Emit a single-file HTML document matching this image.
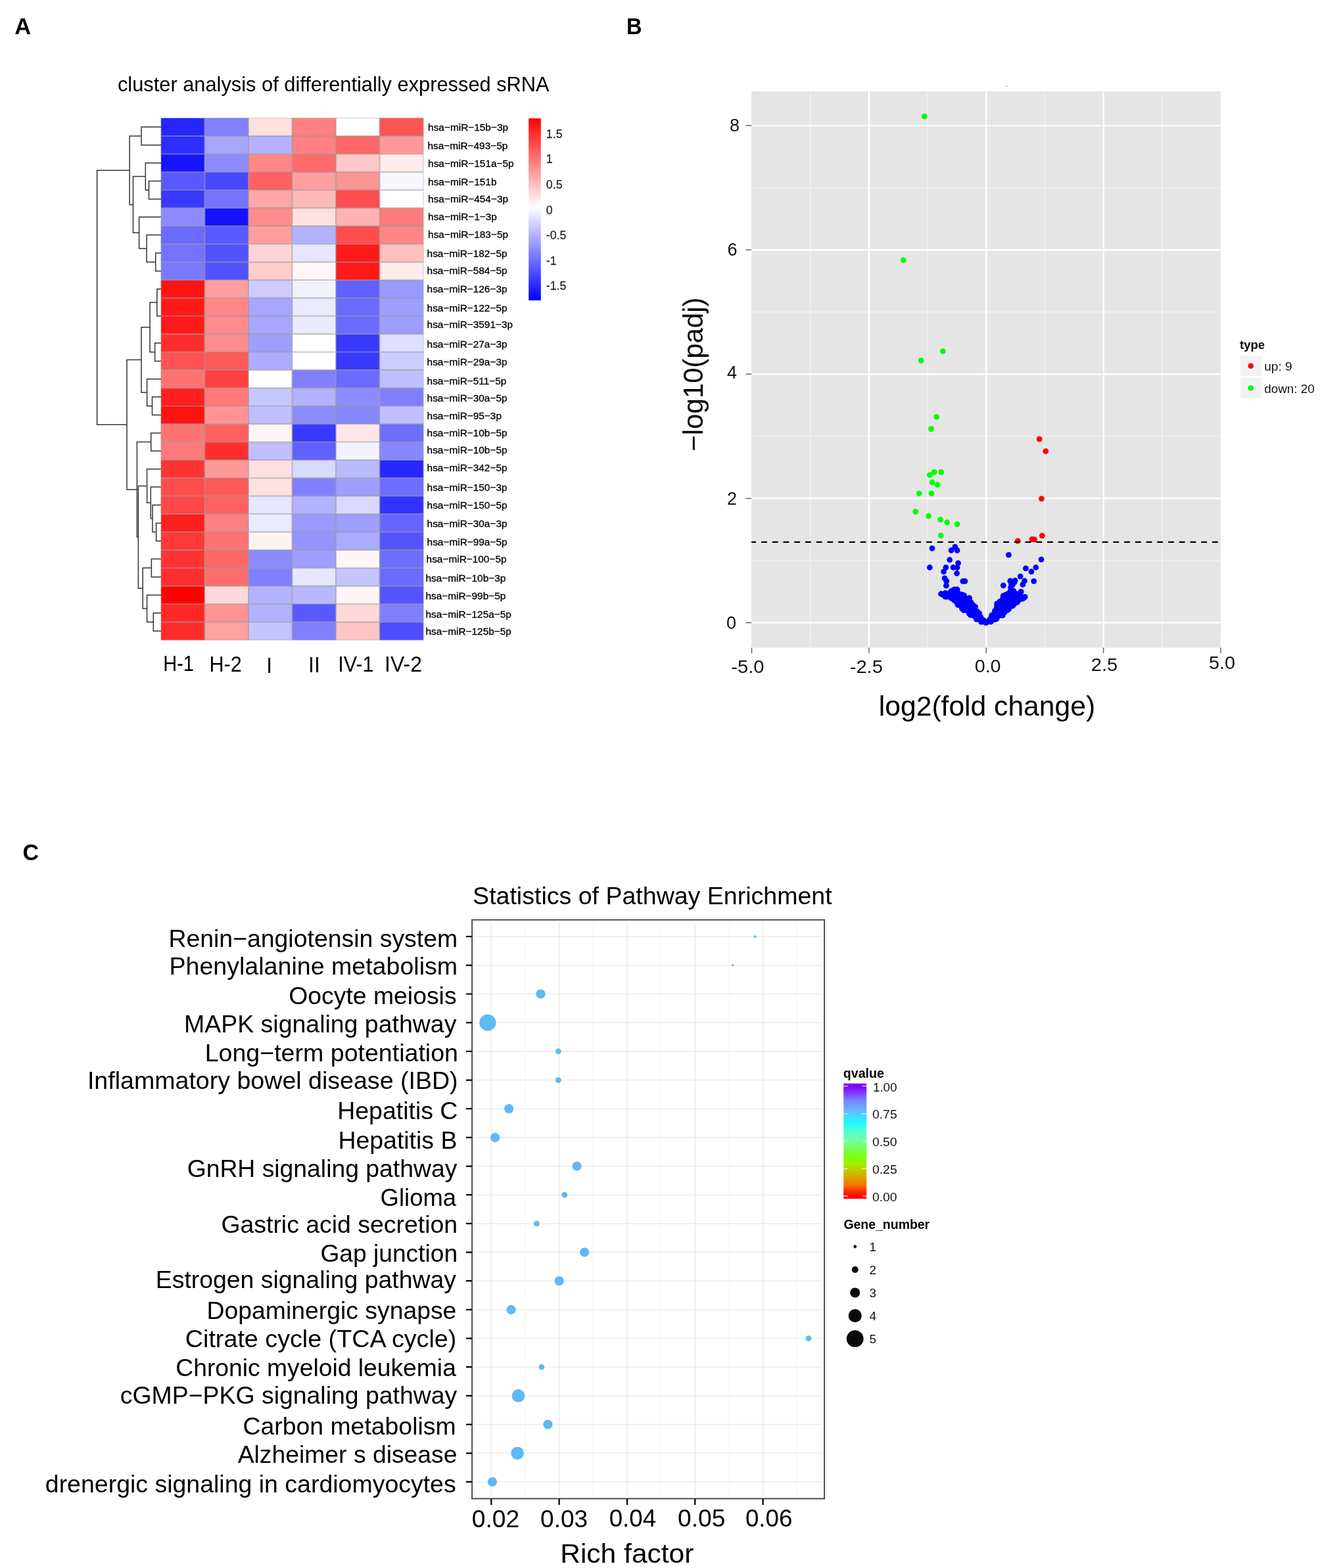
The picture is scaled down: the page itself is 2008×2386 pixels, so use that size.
<!DOCTYPE html>
<html lang="en"><head><meta charset="utf-8"><title>Figure</title>
<style>html,body{margin:0;padding:0;background:#fff}body{width:2008px;height:2386px;overflow:hidden}svg{display:block}text{font-family:'Liberation Sans', sans-serif}</style></head><body>
<svg width="2008" height="2386" viewBox="0 0 2008 2386">
<rect width="2008" height="2386" fill="#fff"/>
<g id="panelA">
<text transform="translate(22.14 52.00) scale(0.9851 1)" font-size="35" font-weight="bold">A</text>
<text transform="translate(178.97 139.30) scale(0.9809 1)" font-size="31.4">cluster analysis of differentially expressed sRNA</text>
<g>
<rect x="244.90" y="179.60" width="66.82" height="27.69" fill="#2626ff"/>
<rect x="311.42" y="179.60" width="66.82" height="27.69" fill="#8080ff"/>
<rect x="377.93" y="179.60" width="66.82" height="27.69" fill="#ffe0e0"/>
<rect x="444.45" y="179.60" width="66.82" height="27.69" fill="#ff8080"/>
<rect x="510.97" y="179.60" width="66.82" height="27.69" fill="#ffffff"/>
<rect x="577.48" y="179.60" width="66.82" height="27.69" fill="#ff5454"/>
<rect x="244.90" y="206.99" width="66.82" height="27.69" fill="#2e2eff"/>
<rect x="311.42" y="206.99" width="66.82" height="27.69" fill="#a6a6ff"/>
<rect x="377.93" y="206.99" width="66.82" height="27.69" fill="#b2b2ff"/>
<rect x="444.45" y="206.99" width="66.82" height="27.69" fill="#ff8080"/>
<rect x="510.97" y="206.99" width="66.82" height="27.69" fill="#ff6666"/>
<rect x="577.48" y="206.99" width="66.82" height="27.69" fill="#ff9999"/>
<rect x="244.90" y="234.38" width="66.82" height="27.69" fill="#1414ff"/>
<rect x="311.42" y="234.38" width="66.82" height="27.69" fill="#8c8cff"/>
<rect x="377.93" y="234.38" width="66.82" height="27.69" fill="#ff8787"/>
<rect x="444.45" y="234.38" width="66.82" height="27.69" fill="#ff6b6b"/>
<rect x="510.97" y="234.38" width="66.82" height="27.69" fill="#ffc7c7"/>
<rect x="577.48" y="234.38" width="66.82" height="27.69" fill="#ffebeb"/>
<rect x="244.90" y="261.77" width="66.82" height="27.69" fill="#5959ff"/>
<rect x="311.42" y="261.77" width="66.82" height="27.69" fill="#4747ff"/>
<rect x="377.93" y="261.77" width="66.82" height="27.69" fill="#ff6161"/>
<rect x="444.45" y="261.77" width="66.82" height="27.69" fill="#ff9e9e"/>
<rect x="510.97" y="261.77" width="66.82" height="27.69" fill="#ff9494"/>
<rect x="577.48" y="261.77" width="66.82" height="27.69" fill="#f7f7ff"/>
<rect x="244.90" y="289.16" width="66.82" height="27.69" fill="#3838ff"/>
<rect x="311.42" y="289.16" width="66.82" height="27.69" fill="#7373ff"/>
<rect x="377.93" y="289.16" width="66.82" height="27.69" fill="#ffa6a6"/>
<rect x="444.45" y="289.16" width="66.82" height="27.69" fill="#ffb8b8"/>
<rect x="510.97" y="289.16" width="66.82" height="27.69" fill="#ff4d4d"/>
<rect x="577.48" y="289.16" width="66.82" height="27.69" fill="#ffffff"/>
<rect x="244.90" y="316.55" width="66.82" height="27.69" fill="#8c8cff"/>
<rect x="311.42" y="316.55" width="66.82" height="27.69" fill="#1212ff"/>
<rect x="377.93" y="316.55" width="66.82" height="27.69" fill="#ff8c8c"/>
<rect x="444.45" y="316.55" width="66.82" height="27.69" fill="#ffe0e0"/>
<rect x="510.97" y="316.55" width="66.82" height="27.69" fill="#ffb2b2"/>
<rect x="577.48" y="316.55" width="66.82" height="27.69" fill="#ff7a7a"/>
<rect x="244.90" y="343.94" width="66.82" height="27.69" fill="#6b6bff"/>
<rect x="311.42" y="343.94" width="66.82" height="27.69" fill="#5959ff"/>
<rect x="377.93" y="343.94" width="66.82" height="27.69" fill="#ff9e9e"/>
<rect x="444.45" y="343.94" width="66.82" height="27.69" fill="#b2b2ff"/>
<rect x="510.97" y="343.94" width="66.82" height="27.69" fill="#ff4d4d"/>
<rect x="577.48" y="343.94" width="66.82" height="27.69" fill="#ff8585"/>
<rect x="244.90" y="371.33" width="66.82" height="27.69" fill="#7373ff"/>
<rect x="311.42" y="371.33" width="66.82" height="27.69" fill="#5252ff"/>
<rect x="377.93" y="371.33" width="66.82" height="27.69" fill="#ffd4d4"/>
<rect x="444.45" y="371.33" width="66.82" height="27.69" fill="#e6e6ff"/>
<rect x="510.97" y="371.33" width="66.82" height="27.69" fill="#ff1919"/>
<rect x="577.48" y="371.33" width="66.82" height="27.69" fill="#ffbfbf"/>
<rect x="244.90" y="398.72" width="66.82" height="27.69" fill="#7a7aff"/>
<rect x="311.42" y="398.72" width="66.82" height="27.69" fill="#5252ff"/>
<rect x="377.93" y="398.72" width="66.82" height="27.69" fill="#ffcccc"/>
<rect x="444.45" y="398.72" width="66.82" height="27.69" fill="#fff7f7"/>
<rect x="510.97" y="398.72" width="66.82" height="27.69" fill="#ff1919"/>
<rect x="577.48" y="398.72" width="66.82" height="27.69" fill="#ffebeb"/>
<rect x="244.90" y="426.11" width="66.82" height="27.69" fill="#ff1414"/>
<rect x="311.42" y="426.11" width="66.82" height="27.69" fill="#ff9e9e"/>
<rect x="377.93" y="426.11" width="66.82" height="27.69" fill="#ccccff"/>
<rect x="444.45" y="426.11" width="66.82" height="27.69" fill="#f2f2ff"/>
<rect x="510.97" y="426.11" width="66.82" height="27.69" fill="#6161ff"/>
<rect x="577.48" y="426.11" width="66.82" height="27.69" fill="#9999ff"/>
<rect x="244.90" y="453.50" width="66.82" height="27.69" fill="#ff1919"/>
<rect x="311.42" y="453.50" width="66.82" height="27.69" fill="#ff8787"/>
<rect x="377.93" y="453.50" width="66.82" height="27.69" fill="#a6a6ff"/>
<rect x="444.45" y="453.50" width="66.82" height="27.69" fill="#ebebff"/>
<rect x="510.97" y="453.50" width="66.82" height="27.69" fill="#6b6bff"/>
<rect x="577.48" y="453.50" width="66.82" height="27.69" fill="#9e9eff"/>
<rect x="244.90" y="480.89" width="66.82" height="27.69" fill="#ff1919"/>
<rect x="311.42" y="480.89" width="66.82" height="27.69" fill="#ff8c8c"/>
<rect x="377.93" y="480.89" width="66.82" height="27.69" fill="#a6a6ff"/>
<rect x="444.45" y="480.89" width="66.82" height="27.69" fill="#ebebff"/>
<rect x="510.97" y="480.89" width="66.82" height="27.69" fill="#6b6bff"/>
<rect x="577.48" y="480.89" width="66.82" height="27.69" fill="#9e9eff"/>
<rect x="244.90" y="508.28" width="66.82" height="27.69" fill="#ff2e2e"/>
<rect x="311.42" y="508.28" width="66.82" height="27.69" fill="#ff8c8c"/>
<rect x="377.93" y="508.28" width="66.82" height="27.69" fill="#9e9eff"/>
<rect x="444.45" y="508.28" width="66.82" height="27.69" fill="#ffffff"/>
<rect x="510.97" y="508.28" width="66.82" height="27.69" fill="#3838ff"/>
<rect x="577.48" y="508.28" width="66.82" height="27.69" fill="#dedeff"/>
<rect x="244.90" y="535.67" width="66.82" height="27.69" fill="#ff5252"/>
<rect x="311.42" y="535.67" width="66.82" height="27.69" fill="#ff5959"/>
<rect x="377.93" y="535.67" width="66.82" height="27.69" fill="#adadff"/>
<rect x="444.45" y="535.67" width="66.82" height="27.69" fill="#ffffff"/>
<rect x="510.97" y="535.67" width="66.82" height="27.69" fill="#3838ff"/>
<rect x="577.48" y="535.67" width="66.82" height="27.69" fill="#ccccff"/>
<rect x="244.90" y="563.06" width="66.82" height="27.69" fill="#ff7373"/>
<rect x="311.42" y="563.06" width="66.82" height="27.69" fill="#ff4040"/>
<rect x="377.93" y="563.06" width="66.82" height="27.69" fill="#ffffff"/>
<rect x="444.45" y="563.06" width="66.82" height="27.69" fill="#8080ff"/>
<rect x="510.97" y="563.06" width="66.82" height="27.69" fill="#6b6bff"/>
<rect x="577.48" y="563.06" width="66.82" height="27.69" fill="#bfbfff"/>
<rect x="244.90" y="590.44" width="66.82" height="27.69" fill="#ff1f1f"/>
<rect x="311.42" y="590.44" width="66.82" height="27.69" fill="#ff7a7a"/>
<rect x="377.93" y="590.44" width="66.82" height="27.69" fill="#c7c7ff"/>
<rect x="444.45" y="590.44" width="66.82" height="27.69" fill="#b2b2ff"/>
<rect x="510.97" y="590.44" width="66.82" height="27.69" fill="#8c8cff"/>
<rect x="577.48" y="590.44" width="66.82" height="27.69" fill="#8080ff"/>
<rect x="244.90" y="617.83" width="66.82" height="27.69" fill="#ff1212"/>
<rect x="311.42" y="617.83" width="66.82" height="27.69" fill="#ff9494"/>
<rect x="377.93" y="617.83" width="66.82" height="27.69" fill="#bfbfff"/>
<rect x="444.45" y="617.83" width="66.82" height="27.69" fill="#8c8cff"/>
<rect x="510.97" y="617.83" width="66.82" height="27.69" fill="#8787ff"/>
<rect x="577.48" y="617.83" width="66.82" height="27.69" fill="#bfbfff"/>
<rect x="244.90" y="645.22" width="66.82" height="27.69" fill="#ff7373"/>
<rect x="311.42" y="645.22" width="66.82" height="27.69" fill="#ff6161"/>
<rect x="377.93" y="645.22" width="66.82" height="27.69" fill="#fff5f5"/>
<rect x="444.45" y="645.22" width="66.82" height="27.69" fill="#3838ff"/>
<rect x="510.97" y="645.22" width="66.82" height="27.69" fill="#ffe6e6"/>
<rect x="577.48" y="645.22" width="66.82" height="27.69" fill="#6e6eff"/>
<rect x="244.90" y="672.61" width="66.82" height="27.69" fill="#ff7a7a"/>
<rect x="311.42" y="672.61" width="66.82" height="27.69" fill="#ff2e2e"/>
<rect x="377.93" y="672.61" width="66.82" height="27.69" fill="#bfbfff"/>
<rect x="444.45" y="672.61" width="66.82" height="27.69" fill="#6161ff"/>
<rect x="510.97" y="672.61" width="66.82" height="27.69" fill="#f2f2ff"/>
<rect x="577.48" y="672.61" width="66.82" height="27.69" fill="#8787ff"/>
<rect x="244.90" y="700.00" width="66.82" height="27.69" fill="#ff3333"/>
<rect x="311.42" y="700.00" width="66.82" height="27.69" fill="#ff9999"/>
<rect x="377.93" y="700.00" width="66.82" height="27.69" fill="#ffe0e0"/>
<rect x="444.45" y="700.00" width="66.82" height="27.69" fill="#d9d9ff"/>
<rect x="510.97" y="700.00" width="66.82" height="27.69" fill="#babaff"/>
<rect x="577.48" y="700.00" width="66.82" height="27.69" fill="#2626ff"/>
<rect x="244.90" y="727.39" width="66.82" height="27.69" fill="#ff4d4d"/>
<rect x="311.42" y="727.39" width="66.82" height="27.69" fill="#ff5959"/>
<rect x="377.93" y="727.39" width="66.82" height="27.69" fill="#ffe0e0"/>
<rect x="444.45" y="727.39" width="66.82" height="27.69" fill="#8080ff"/>
<rect x="510.97" y="727.39" width="66.82" height="27.69" fill="#9e9eff"/>
<rect x="577.48" y="727.39" width="66.82" height="27.69" fill="#6e6eff"/>
<rect x="244.90" y="754.78" width="66.82" height="27.69" fill="#ff4747"/>
<rect x="311.42" y="754.78" width="66.82" height="27.69" fill="#ff6161"/>
<rect x="377.93" y="754.78" width="66.82" height="27.69" fill="#e6e6ff"/>
<rect x="444.45" y="754.78" width="66.82" height="27.69" fill="#b2b2ff"/>
<rect x="510.97" y="754.78" width="66.82" height="27.69" fill="#d9d9ff"/>
<rect x="577.48" y="754.78" width="66.82" height="27.69" fill="#3333ff"/>
<rect x="244.90" y="782.17" width="66.82" height="27.69" fill="#ff1f1f"/>
<rect x="311.42" y="782.17" width="66.82" height="27.69" fill="#ff8080"/>
<rect x="377.93" y="782.17" width="66.82" height="27.69" fill="#ebebff"/>
<rect x="444.45" y="782.17" width="66.82" height="27.69" fill="#9999ff"/>
<rect x="510.97" y="782.17" width="66.82" height="27.69" fill="#9e9eff"/>
<rect x="577.48" y="782.17" width="66.82" height="27.69" fill="#6666ff"/>
<rect x="244.90" y="809.56" width="66.82" height="27.69" fill="#ff3838"/>
<rect x="311.42" y="809.56" width="66.82" height="27.69" fill="#ff7373"/>
<rect x="377.93" y="809.56" width="66.82" height="27.69" fill="#fff2f2"/>
<rect x="444.45" y="809.56" width="66.82" height="27.69" fill="#9494ff"/>
<rect x="510.97" y="809.56" width="66.82" height="27.69" fill="#ababff"/>
<rect x="577.48" y="809.56" width="66.82" height="27.69" fill="#5454ff"/>
<rect x="244.90" y="836.95" width="66.82" height="27.69" fill="#ff3333"/>
<rect x="311.42" y="836.95" width="66.82" height="27.69" fill="#ff6666"/>
<rect x="377.93" y="836.95" width="66.82" height="27.69" fill="#8c8cff"/>
<rect x="444.45" y="836.95" width="66.82" height="27.69" fill="#9e9eff"/>
<rect x="510.97" y="836.95" width="66.82" height="27.69" fill="#fff7f7"/>
<rect x="577.48" y="836.95" width="66.82" height="27.69" fill="#6e6eff"/>
<rect x="244.90" y="864.34" width="66.82" height="27.69" fill="#ff2e2e"/>
<rect x="311.42" y="864.34" width="66.82" height="27.69" fill="#ff6e6e"/>
<rect x="377.93" y="864.34" width="66.82" height="27.69" fill="#8080ff"/>
<rect x="444.45" y="864.34" width="66.82" height="27.69" fill="#e6e6ff"/>
<rect x="510.97" y="864.34" width="66.82" height="27.69" fill="#c4c4ff"/>
<rect x="577.48" y="864.34" width="66.82" height="27.69" fill="#6b6bff"/>
<rect x="244.90" y="891.73" width="66.82" height="27.69" fill="#ff0000"/>
<rect x="311.42" y="891.73" width="66.82" height="27.69" fill="#ffd9d9"/>
<rect x="377.93" y="891.73" width="66.82" height="27.69" fill="#b2b2ff"/>
<rect x="444.45" y="891.73" width="66.82" height="27.69" fill="#b8b8ff"/>
<rect x="510.97" y="891.73" width="66.82" height="27.69" fill="#fff5f5"/>
<rect x="577.48" y="891.73" width="66.82" height="27.69" fill="#5454ff"/>
<rect x="244.90" y="919.12" width="66.82" height="27.69" fill="#ff2626"/>
<rect x="311.42" y="919.12" width="66.82" height="27.69" fill="#ff9494"/>
<rect x="377.93" y="919.12" width="66.82" height="27.69" fill="#b2b2ff"/>
<rect x="444.45" y="919.12" width="66.82" height="27.69" fill="#5959ff"/>
<rect x="510.97" y="919.12" width="66.82" height="27.69" fill="#ffd9d9"/>
<rect x="577.48" y="919.12" width="66.82" height="27.69" fill="#8080ff"/>
<rect x="244.90" y="946.51" width="66.82" height="27.69" fill="#ff2b2b"/>
<rect x="311.42" y="946.51" width="66.82" height="27.69" fill="#ffa1a1"/>
<rect x="377.93" y="946.51" width="66.82" height="27.69" fill="#c4c4ff"/>
<rect x="444.45" y="946.51" width="66.82" height="27.69" fill="#8080ff"/>
<rect x="510.97" y="946.51" width="66.82" height="27.69" fill="#ffc4c4"/>
<rect x="577.48" y="946.51" width="66.82" height="27.69" fill="#4d4dff"/>
</g>
<path d="M311.42 179.6V973.9M377.93 179.6V973.9M444.45 179.6V973.9M510.97 179.6V973.9M577.48 179.6V973.9M244.9 206.99H644.0M244.9 234.38H644.0M244.9 261.77H644.0M244.9 289.16H644.0M244.9 316.55H644.0M244.9 343.94H644.0M244.9 371.33H644.0M244.9 398.72H644.0M244.9 426.11H644.0M244.9 453.50H644.0M244.9 480.89H644.0M244.9 508.28H644.0M244.9 535.67H644.0M244.9 563.06H644.0M244.9 590.44H644.0M244.9 617.83H644.0M244.9 645.22H644.0M244.9 672.61H644.0M244.9 700.00H644.0M244.9 727.39H644.0M244.9 754.78H644.0M244.9 782.17H644.0M244.9 809.56H644.0M244.9 836.95H644.0M244.9 864.34H644.0M244.9 891.73H644.0M244.9 919.12H644.0M244.9 946.51H644.0" stroke="#999" stroke-width="1.9" stroke-opacity="0.62" fill="none"/>
<rect x="244.9" y="179.6" width="399.10" height="794.30" fill="none" stroke="#aaa" stroke-width="1" stroke-opacity="0.55"/>
<path d="M244.9 193.3H215.0V220.7H244.9M244.9 275.5H226.5V302.9H244.9M244.9 248.1H221.3V289.2H226.5M244.9 385.0H236.7V412.4H244.9M244.9 357.6H223.1V398.7H236.7M244.9 330.2H211.6V378.2H223.1M221.3 268.6H202.5V354.2H211.6M215.0 207.0H197.1V311.4H202.5M244.9 439.8H238.8V480.9H244.9M244.9 522.0H235.6V549.4H244.9M238.8 460.3H228.1V535.7H235.6M244.9 604.1H231.5V631.5H244.9M244.9 576.8H223.6V617.8H231.5M228.1 498.0H215.0V597.3H223.6M244.9 658.9H229.7V686.3H244.9M244.9 795.9H237.6V823.3H244.9M244.9 768.5H232.0V809.6H237.6M244.9 741.1H229.3V789.0H232.0M244.9 713.7H223.6V765.1H229.3M244.9 850.6H230.4V878.0H244.9M244.9 932.8H233.3V960.2H244.9M244.9 905.4H223.6V946.5H233.3M230.4 864.3H217.2V926.0H223.6M223.6 739.4H210.4V895.2H217.2M229.7 672.6H208.4V817.3H210.4M215.0 547.6H193.0V744.9H208.4M197.1 259.2H147.6V646.3H193.0" fill="none" stroke="#333" stroke-width="1.5"/>
<g font-size="15.4" fill="#000" stroke="#000" stroke-width="0.3">
<text x="651.1" y="198.8">hsa−miR−15b−3p</text>
<text x="650.4" y="227.0">hsa−miR−493−5p</text>
<text x="651.1" y="254.0">hsa−miR−151a−5p</text>
<text x="651.1" y="282.4">hsa−miR−151b</text>
<text x="651.1" y="308.3">hsa−miR−454−3p</text>
<text x="651.1" y="334.9">hsa−miR−1−3p</text>
<text x="651.1" y="362.0">hsa−miR−183−5p</text>
<text x="649.6" y="391.2">hsa−miR−182−5p</text>
<text x="649.6" y="417.0">hsa−miR−584−5p</text>
<text x="649.6" y="445.3">hsa−miR−126−3p</text>
<text x="649.6" y="474.0">hsa−miR−122−5p</text>
<text x="649.6" y="499.4">hsa−miR−3591−3p</text>
<text x="649.6" y="528.7">hsa−miR−27a−3p</text>
<text x="649.6" y="555.8">hsa−miR−29a−3p</text>
<text x="649.6" y="584.6">hsa−miR−511−5p</text>
<text x="649.6" y="610.8">hsa−miR−30a−5p</text>
<text x="649.6" y="637.7">hsa−miR−95−3p</text>
<text x="649.6" y="663.6">hsa−miR−10b−5p</text>
<text x="649.6" y="689.5">hsa−miR−10b−5p</text>
<text x="649.6" y="717.4">hsa−miR−342−5p</text>
<text x="649.6" y="747.0">hsa−miR−150−3p</text>
<text x="649.6" y="774.0">hsa−miR−150−5p</text>
<text x="649.6" y="802.1">hsa−miR−30a−3p</text>
<text x="649.6" y="830.2">hsa−miR−99a−5p</text>
<text x="648.6" y="856.1">hsa−miR−100−5p</text>
<text x="647.4" y="884.9">hsa−miR−10b−3p</text>
<text x="647.4" y="912.3">hsa−miR−99b−5p</text>
<text x="647.4" y="939.9">hsa−miR−125a−5p</text>
<text x="647.4" y="965.8">hsa−miR−125b−5p</text>
</g>
<text transform="translate(248.18 1020.70) scale(0.8849 1)" font-size="32.8">H-1</text>
<text transform="translate(318.45 1021.60) scale(0.9332 1)" font-size="32.8">H-2</text>
<text transform="translate(405.36 1023.60) scale(0.9628 1)" font-size="32.8">I</text>
<text transform="translate(469.10 1022.90) scale(0.9837 1)" font-size="32.8">II</text>
<text transform="translate(514.15 1021.70) scale(0.9322 1)" font-size="32.8">IV-1</text>
<text transform="translate(585.12 1021.80) scale(0.9741 1)" font-size="32.8">IV-2</text>
<defs><linearGradient id="hm" x1="0" y1="0" x2="0" y2="1"><stop offset="0" stop-color="#ff0000"/><stop offset="0.488" stop-color="#ffffff"/><stop offset="1" stop-color="#0000ff"/></linearGradient></defs>
<rect x="804.2" y="180.1" width="18.6" height="277" fill="url(#hm)"/>
<g font-size="17.8" fill="#222" stroke="#222" stroke-width="0.25">
<text x="830.8" y="209.7">1.5</text>
<text x="830.8" y="248.4">1</text>
<text x="830.8" y="287.1">0.5</text>
<text x="830.8" y="325.8">0</text>
<text x="830.8" y="364.0">-0.5</text>
<text x="830.8" y="402.7">-1</text>
<text x="830.8" y="441.2">-1.5</text>
</g>
</g>
<g id="panelB">
<text transform="translate(953.08 52.00) scale(0.9321 1)" font-size="35" font-weight="bold">B</text>
<rect x="1143.2" y="139.0" width="713.7" height="846.6" fill="#e5e5e5"/>
<path d="M1232.7 139.0V985.6M1411.1 139.0V985.6M1589.4 139.0V985.6M1767.8 139.0V985.6M1143.2 853.0H1856.9M1143.2 663.9H1856.9M1143.2 474.8H1856.9M1143.2 285.6H1856.9" stroke="#f1f1f1" stroke-width="1.4" fill="none"/>
<path d="M1321.9 139.0V985.6M1500.2 139.0V985.6M1678.6 139.0V985.6M1143.2 947.5H1856.9M1143.2 758.4H1856.9M1143.2 569.3H1856.9M1143.2 380.2H1856.9M1143.2 191.1H1856.9" stroke="#ffffff" stroke-width="2.35" fill="none"/>
<path d="M1143.5 985.6v8.5M1321.9 985.6v8.5M1500.2 985.6v8.5M1678.6 985.6v8.5M1857.0 985.6v8.5M1143.2 947.5h-8.8M1143.2 758.4h-8.8M1143.2 569.3h-8.8M1143.2 380.2h-8.8M1143.2 191.1h-8.8" stroke="#666" stroke-width="1.5" fill="none"/>
<g fill="#0000ff">
<circle cx="1418.0" cy="834.4" r="4.4"/>
<circle cx="1452.8" cy="832.1" r="4.4"/>
<circle cx="1447.0" cy="837.5" r="4.4"/>
<circle cx="1456.1" cy="837.5" r="4.4"/>
<circle cx="1444.7" cy="852.0" r="4.4"/>
<circle cx="1457.6" cy="856.8" r="4.4"/>
<circle cx="1414.4" cy="863.5" r="4.4"/>
<circle cx="1438.9" cy="863.5" r="4.4"/>
<circle cx="1450.1" cy="863.5" r="4.4"/>
<circle cx="1456.1" cy="863.5" r="4.4"/>
<circle cx="1435.6" cy="869.8" r="4.4"/>
<circle cx="1455.6" cy="872.5" r="4.4"/>
<circle cx="1437.1" cy="879.8" r="4.4"/>
<circle cx="1439.8" cy="884.3" r="4.4"/>
<circle cx="1439.4" cy="891.2" r="4.4"/>
<circle cx="1464.8" cy="884.3" r="4.4"/>
<circle cx="1467.9" cy="884.3" r="4.4"/>
<circle cx="1534.5" cy="844.4" r="4.4"/>
<circle cx="1584.0" cy="851.3" r="4.4"/>
<circle cx="1575.8" cy="863.5" r="4.4"/>
<circle cx="1560.4" cy="864.9" r="4.4"/>
<circle cx="1568.9" cy="869.8" r="4.4"/>
<circle cx="1552.2" cy="877.1" r="4.4"/>
<circle cx="1572.7" cy="884.3" r="4.4"/>
<circle cx="1558.6" cy="884.0" r="4.4"/>
<circle cx="1555.9" cy="889.4" r="4.4"/>
<circle cx="1536.8" cy="884.0" r="4.4"/>
<circle cx="1544.1" cy="883.4" r="4.4"/>
<circle cx="1538.6" cy="888.9" r="4.4"/>
<circle cx="1526.3" cy="891.0" r="4.4"/>
<circle cx="1553.2" cy="900.3" r="4.4"/>
<circle cx="1559.0" cy="908.3" r="4.4"/>
<circle cx="1555.0" cy="911.2" r="4.4"/>
<circle cx="1431.6" cy="903.9" r="4.4"/>
<circle cx="1438.0" cy="902.5" r="4.4"/>
<circle cx="1438.9" cy="907.0" r="4.4"/>
<circle cx="1443.4" cy="904.6" r="4.4"/>
<circle cx="1451.6" cy="897.0" r="4.4"/>
<circle cx="1456.1" cy="897.0" r="4.4"/>
<circle cx="1549.4" cy="913.5" r="4.4"/>
<circle cx="1455.4" cy="916.4" r="4.4"/>
<circle cx="1512.0" cy="934.3" r="4.4"/>
<circle cx="1443.9" cy="903.1" r="4.4"/>
<circle cx="1456.1" cy="899.2" r="4.4"/>
<circle cx="1487.9" cy="937.5" r="4.4"/>
<circle cx="1529.3" cy="909.3" r="4.4"/>
<circle cx="1539.5" cy="908.4" r="4.4"/>
<circle cx="1556.5" cy="909.1" r="4.4"/>
<circle cx="1446.9" cy="899.5" r="4.4"/>
<circle cx="1458.7" cy="908.9" r="4.4"/>
<circle cx="1530.1" cy="904.8" r="4.4"/>
<circle cx="1462.8" cy="922.1" r="4.4"/>
<circle cx="1454.3" cy="907.3" r="4.4"/>
<circle cx="1519.8" cy="921.0" r="4.4"/>
<circle cx="1525.6" cy="928.7" r="4.4"/>
<circle cx="1476.6" cy="927.5" r="4.4"/>
<circle cx="1484.9" cy="934.2" r="4.4"/>
<circle cx="1541.6" cy="920.3" r="4.4"/>
<circle cx="1525.3" cy="920.8" r="4.4"/>
<circle cx="1520.7" cy="915.5" r="4.4"/>
<circle cx="1510.0" cy="942.5" r="4.4"/>
<circle cx="1470.2" cy="927.0" r="4.4"/>
<circle cx="1543.8" cy="908.3" r="4.4"/>
<circle cx="1542.8" cy="886.4" r="4.4"/>
<circle cx="1537.3" cy="898.9" r="4.4"/>
<circle cx="1466.5" cy="905.8" r="4.4"/>
<circle cx="1479.8" cy="920.1" r="4.4"/>
<circle cx="1523.7" cy="936.0" r="4.4"/>
<circle cx="1513.5" cy="929.5" r="4.4"/>
<circle cx="1474.5" cy="934.0" r="4.4"/>
<circle cx="1460.1" cy="917.4" r="4.4"/>
<circle cx="1466.1" cy="914.0" r="4.4"/>
<circle cx="1477.1" cy="923.3" r="4.4"/>
<circle cx="1546.6" cy="903.9" r="4.4"/>
<circle cx="1483.1" cy="927.5" r="4.4"/>
<circle cx="1473.5" cy="913.6" r="4.4"/>
<circle cx="1535.4" cy="909.6" r="4.4"/>
<circle cx="1520.2" cy="932.7" r="4.4"/>
<circle cx="1464.5" cy="909.4" r="4.4"/>
<circle cx="1452.3" cy="913.9" r="4.4"/>
<circle cx="1552.0" cy="910.6" r="4.4"/>
<circle cx="1530.8" cy="917.6" r="4.4"/>
<circle cx="1531.6" cy="923.6" r="4.4"/>
<circle cx="1473.3" cy="918.8" r="4.4"/>
<circle cx="1534.0" cy="903.2" r="4.4"/>
<circle cx="1439.5" cy="903.4" r="4.4"/>
<circle cx="1506.1" cy="941.8" r="4.4"/>
<circle cx="1535.7" cy="914.4" r="4.4"/>
<circle cx="1479.1" cy="934.6" r="4.4"/>
<circle cx="1540.9" cy="903.1" r="4.4"/>
<circle cx="1445.4" cy="908.9" r="4.4"/>
<circle cx="1518.0" cy="928.9" r="4.4"/>
<circle cx="1434.3" cy="904.9" r="4.4"/>
<circle cx="1536.8" cy="922.8" r="4.4"/>
<circle cx="1450.1" cy="908.4" r="4.4"/>
<circle cx="1528.2" cy="931.7" r="4.4"/>
<circle cx="1486.8" cy="941.4" r="4.4"/>
<circle cx="1516.5" cy="939.0" r="4.4"/>
<circle cx="1516.4" cy="934.2" r="4.4"/>
<circle cx="1467.1" cy="924.6" r="4.4"/>
<circle cx="1467.4" cy="918.7" r="4.4"/>
<circle cx="1450.5" cy="903.6" r="4.4"/>
<circle cx="1490.6" cy="943.2" r="4.4"/>
<circle cx="1544.5" cy="913.3" r="4.4"/>
<circle cx="1481.9" cy="937.5" r="4.4"/>
<circle cx="1459.2" cy="913.6" r="4.4"/>
<circle cx="1550.9" cy="906.7" r="4.4"/>
<circle cx="1439.6" cy="908.2" r="4.4"/>
<circle cx="1496.3" cy="943.8" r="4.4"/>
<circle cx="1540.0" cy="890.4" r="4.4"/>
<circle cx="1527.2" cy="914.9" r="4.4"/>
<circle cx="1525.6" cy="910.5" r="4.4"/>
<circle cx="1516.6" cy="918.7" r="4.4"/>
<circle cx="1503.0" cy="946.0" r="4.4"/>
<circle cx="1552.3" cy="901.9" r="4.4"/>
<circle cx="1462.6" cy="904.7" r="4.4"/>
<circle cx="1508.6" cy="936.3" r="4.4"/>
<circle cx="1541.9" cy="916.3" r="4.4"/>
<circle cx="1469.1" cy="910.5" r="4.4"/>
<circle cx="1538.8" cy="886.4" r="4.4"/>
<circle cx="1452.2" cy="898.6" r="4.4"/>
<circle cx="1458.7" cy="904.1" r="4.4"/>
<circle cx="1537.6" cy="893.8" r="4.4"/>
<circle cx="1526.2" cy="906.6" r="4.4"/>
<circle cx="1454.5" cy="902.9" r="4.4"/>
<circle cx="1516.4" cy="923.4" r="4.4"/>
<circle cx="1486.7" cy="930.7" r="4.4"/>
<circle cx="1532.1" cy="912.3" r="4.4"/>
<circle cx="1530.4" cy="927.4" r="4.4"/>
<circle cx="1474.6" cy="909.8" r="4.4"/>
<circle cx="1539.4" cy="913.1" r="4.4"/>
<circle cx="1489.6" cy="933.4" r="4.4"/>
<circle cx="1523.3" cy="925.3" r="4.4"/>
<circle cx="1535.4" cy="918.3" r="4.4"/>
<circle cx="1492.0" cy="939.4" r="4.4"/>
<circle cx="1472.9" cy="930.3" r="4.4"/>
<circle cx="1476.9" cy="916.4" r="4.4"/>
<circle cx="1470.4" cy="921.9" r="4.4"/>
<circle cx="1507.3" cy="946.0" r="4.4"/>
<circle cx="1463.5" cy="926.2" r="4.4"/>
<circle cx="1527.4" cy="924.6" r="4.4"/>
<circle cx="1511.9" cy="938.6" r="4.4"/>
<circle cx="1534.7" cy="926.7" r="4.4"/>
<circle cx="1547.7" cy="909.8" r="4.4"/>
<circle cx="1482.1" cy="931.5" r="4.4"/>
<circle cx="1498.8" cy="947.1" r="4.4"/>
<circle cx="1483.5" cy="923.3" r="4.4"/>
<circle cx="1473.4" cy="924.6" r="4.4"/>
<circle cx="1469.8" cy="915.6" r="4.4"/>
<circle cx="1541.7" cy="899.2" r="4.4"/>
<circle cx="1545.7" cy="917.1" r="4.4"/>
<circle cx="1457.7" cy="920.6" r="4.4"/>
<circle cx="1455.3" cy="911.3" r="4.4"/>
<circle cx="1519.7" cy="936.8" r="4.4"/>
<circle cx="1513.9" cy="942.6" r="4.4"/>
<circle cx="1431.9" cy="903.7" r="4.4"/>
<circle cx="1437.6" cy="907.8" r="4.4"/>
<circle cx="1447.8" cy="910.8" r="4.4"/>
<circle cx="1456.9" cy="920.0" r="4.4"/>
<circle cx="1466.1" cy="928.7" r="4.4"/>
<circle cx="1476.3" cy="935.8" r="4.4"/>
<circle cx="1485.5" cy="942.4" r="4.4"/>
<circle cx="1492.7" cy="946.3" r="4.4"/>
<circle cx="1500.1" cy="947.6" r="4.4"/>
<circle cx="1507.4" cy="946.0" r="4.4"/>
<circle cx="1516.1" cy="941.4" r="4.4"/>
<circle cx="1525.3" cy="936.3" r="4.4"/>
<circle cx="1532.4" cy="928.7" r="4.4"/>
<circle cx="1540.6" cy="922.0" r="4.4"/>
<circle cx="1547.8" cy="915.9" r="4.4"/>
<circle cx="1555.9" cy="910.8" r="4.4"/>
<circle cx="1559.0" cy="908.3" r="4.4"/>
</g><g fill="#00ff00">
<circle cx="1406.3" cy="177.1" r="4.4"/>
<circle cx="1374.3" cy="396.0" r="4.4"/>
<circle cx="1434.3" cy="534.3" r="4.4"/>
<circle cx="1401.1" cy="548.6" r="4.4"/>
<circle cx="1424.7" cy="634.3" r="4.4"/>
<circle cx="1416.4" cy="652.6" r="4.4"/>
<circle cx="1421.1" cy="718.3" r="4.4"/>
<circle cx="1431.8" cy="718.5" r="4.4"/>
<circle cx="1414.4" cy="722.8" r="4.4"/>
<circle cx="1418.0" cy="733.9" r="4.4"/>
<circle cx="1426.0" cy="737.7" r="4.4"/>
<circle cx="1398.2" cy="750.9" r="4.4"/>
<circle cx="1416.9" cy="750.9" r="4.4"/>
<circle cx="1392.8" cy="778.5" r="4.4"/>
<circle cx="1412.6" cy="785.4" r="4.4"/>
<circle cx="1430.7" cy="790.7" r="4.4"/>
<circle cx="1440.7" cy="795.0" r="4.4"/>
<circle cx="1456.1" cy="797.6" r="4.4"/>
<circle cx="1431.2" cy="814.8" r="4.4"/>
</g><g fill="#ff0000">
<circle cx="1581.1" cy="668.2" r="4.4"/>
<circle cx="1590.7" cy="686.7" r="4.4"/>
<circle cx="1584.4" cy="758.9" r="4.4"/>
<circle cx="1585.3" cy="815.1" r="4.4"/>
<circle cx="1548.3" cy="823.1" r="4.4"/>
<circle cx="1570.0" cy="820.6" r="4.4"/>
<circle cx="1573.5" cy="821.0" r="4.4"/>
</g>
<path d="M1143.2 824.8H1856.9" stroke="#000" stroke-width="2.2" stroke-dasharray="8.8 7.93" stroke-dashoffset="1.9" fill="none"/>
<circle cx="1531.4" cy="131.4" r="0.8" fill="#777"/>
<g font-size="27" fill="#111">
<text transform="translate(1112.29 1023.80) scale(1.0795 1)" font-size="27" fill="#111">-5.0</text>
<text transform="translate(1292.69 1023.80) scale(1.0805 1)" font-size="27" fill="#111">-2.5</text>
<text transform="translate(1482.65 1022.80) scale(1.0646 1)" font-size="27" fill="#111">0.0</text>
<text transform="translate(1659.75 1020.50) scale(1.0769 1)" font-size="27" fill="#111">2.5</text>
<text transform="translate(1839.05 1018.40) scale(1.0646 1)" font-size="27" fill="#111">5.0</text>
<text x="1117.4" y="200.3" text-anchor="middle">8</text>
<text x="1114.0" y="389.2" text-anchor="middle">6</text>
<text x="1113.4" y="576.0" text-anchor="middle">4</text>
<text x="1113.5" y="768.0" text-anchor="middle">2</text>
<text x="1112.4" y="957.2" text-anchor="middle">0</text>
</g>
<text transform="translate(1336.83 1089.00) scale(1.0196 1)" font-size="41.8">log2(fold change)</text>
<text transform="translate(1068.90 686.69) rotate(-90) scale(1.0024 1)" font-size="41.8">−log10(padj)</text>
<text transform="translate(1886.12 531.00) scale(0.9791 1)" font-size="18.8" font-weight="bold">type</text>
<rect x="1887.1" y="541.0" width="31.5" height="31.3" fill="#f2f2f2"/>
<rect x="1887.1" y="574.8" width="31.5" height="31.4" fill="#f2f2f2"/>
<circle cx="1902.7" cy="556.7" r="4.3" fill="#ff0000"/>
<circle cx="1902.7" cy="590.5" r="4.3" fill="#00ff00"/>
<text transform="translate(1923.16 563.70) scale(1.0270 1)" font-size="18.6" fill="#111">up: 9</text>
<text transform="translate(1923.25 597.90) scale(1.0119 1)" font-size="18.6" fill="#111">down: 20</text>
</g>
<g id="panelC">
<text transform="translate(34.54 1308.60) scale(0.9457 1)" font-size="36" font-weight="bold">C</text>
<text transform="translate(719.11 1375.90) scale(1.0068 1)" font-size="37.3">Statistics of Pathway Enrichment</text>
<rect x="718.1" y="1399.7" width="536.0" height="880.8" fill="#fff"/>
<path d="M799.0 1402.7V2277.5M902.3 1402.7V2277.5M1005.6 1402.7V2277.5M1109.0 1402.7V2277.5M1212.3 1402.7V2277.5" stroke="#f6f6f6" stroke-width="1" fill="none"/>
<path d="M747.3 1402.7V2277.5M850.6 1402.7V2277.5M954.0 1402.7V2277.5M1057.3 1402.7V2277.5M1160.6 1402.7V2277.5M722.1 1425.2H1250.1M722.1 1468.9H1250.1M722.1 1512.5H1250.1M722.1 1556.2H1250.1M722.1 1599.9H1250.1M722.1 1643.6H1250.1M722.1 1687.2H1250.1M722.1 1730.9H1250.1M722.1 1774.6H1250.1M722.1 1818.2H1250.1M722.1 1861.9H1250.1M722.1 1905.6H1250.1M722.1 1949.2H1250.1M722.1 1992.9H1250.1M722.1 2036.6H1250.1M722.1 2080.2H1250.1M722.1 2123.9H1250.1M722.1 2167.6H1250.1M722.1 2211.3H1250.1M722.1 2254.9H1250.1" stroke="#ececec" stroke-width="1.5" fill="none"/>
<g fill="#5fb9f5">
<circle cx="1148.7" cy="1425.2" r="2.0"/>
<circle cx="1114.7" cy="1468.9" r="1.7"/>
<circle cx="822.5" cy="1512.5" r="7.1"/>
<circle cx="741.9" cy="1556.2" r="12.6"/>
<circle cx="849.4" cy="1599.9" r="4.4"/>
<circle cx="849.4" cy="1643.6" r="4.4"/>
<circle cx="774.2" cy="1687.2" r="7.1"/>
<circle cx="753.1" cy="1730.9" r="7.1"/>
<circle cx="877.6" cy="1774.6" r="7.1"/>
<circle cx="858.9" cy="1818.2" r="4.4"/>
<circle cx="816.4" cy="1861.9" r="4.4"/>
<circle cx="889.2" cy="1905.6" r="7.1"/>
<circle cx="850.7" cy="1949.2" r="7.1"/>
<circle cx="777.6" cy="1992.9" r="7.1"/>
<circle cx="1230.0" cy="2036.6" r="4.4"/>
<circle cx="823.9" cy="2080.2" r="4.4"/>
<circle cx="788.5" cy="2123.9" r="9.9"/>
<circle cx="833.4" cy="2167.6" r="7.1"/>
<circle cx="787.1" cy="2211.3" r="9.9"/>
<circle cx="749.0" cy="2254.9" r="7.1"/>
</g>
<rect x="718.1" y="1399.7" width="536.0" height="880.8" fill="none" stroke="#4d4d4d" stroke-width="2"/>
<path d="M747.3 2280.5v9.5M850.6 2280.5v9.5M954.0 2280.5v9.5M1057.3 2280.5v9.5M1160.6 2280.5v9.5M718.1 1425.2h-9.2M718.1 1468.9h-9.2M718.1 1512.5h-9.2M718.1 1556.2h-9.2M718.1 1599.9h-9.2M718.1 1643.6h-9.2M718.1 1687.2h-9.2M718.1 1730.9h-9.2M718.1 1774.6h-9.2M718.1 1818.2h-9.2M718.1 1861.9h-9.2M718.1 1905.6h-9.2M718.1 1949.2h-9.2M718.1 1992.9h-9.2M718.1 2036.6h-9.2M718.1 2080.2h-9.2M718.1 2123.9h-9.2M718.1 2167.6h-9.2M718.1 2211.3h-9.2M718.1 2254.9h-9.2" stroke="#000" stroke-width="2.2" fill="none"/>
<text transform="translate(256.41 1440.90) scale(1.0056 1)" font-size="37.2">Renin−angiotensin system</text>
<text transform="translate(257.49 1483.40) scale(1.0105 1)" font-size="37.2">Phenylalanine metabolism</text>
<text transform="translate(439.22 1528.00) scale(1.0048 1)" font-size="37.2">Oocyte meiosis</text>
<text transform="translate(280.00 1571.30) scale(1.0072 1)" font-size="37.2">MAPK signaling pathway</text>
<text transform="translate(311.69 1615.20) scale(1.0101 1)" font-size="37.2">Long−term potentiation</text>
<text transform="translate(132.92 1656.70) scale(1.0103 1)" font-size="37.2">Inflammatory bowel disease (IBD)</text>
<text transform="translate(513.20 1702.50) scale(1.0071 1)" font-size="37.2">Hepatitis C</text>
<text transform="translate(514.51 1747.80) scale(1.0056 1)" font-size="37.2">Hepatitis B</text>
<text transform="translate(284.63 1790.60) scale(1.0034 1)" font-size="37.2">GnRH signaling pathway</text>
<text transform="translate(578.57 1834.80) scale(0.9812 1)" font-size="37.2">Glioma</text>
<text transform="translate(336.43 1876.20) scale(1.0057 1)" font-size="37.2">Gastric acid secretion</text>
<text transform="translate(487.44 1919.80) scale(0.9990 1)" font-size="37.2">Gap junction</text>
<text transform="translate(236.81 1960.10) scale(1.0051 1)" font-size="37.2">Estrogen signaling pathway</text>
<text transform="translate(314.61 2006.80) scale(1.0038 1)" font-size="37.2">Dopaminergic synapse</text>
<text transform="translate(281.81 2050.10) scale(1.0135 1)" font-size="37.2">Citrate cycle (TCA cycle)</text>
<text transform="translate(267.34 2093.60) scale(1.0019 1)" font-size="37.2">Chronic myeloid leukemia</text>
<text transform="translate(182.80 2135.80) scale(1.0058 1)" font-size="37.2">cGMP−PKG signaling pathway</text>
<text transform="translate(369.53 2182.60) scale(1.0049 1)" font-size="37.2">Carbon metabolism</text>
<text transform="translate(361.70 2225.50) scale(1.0028 1)" font-size="37.2">Alzheimer s disease</text>
<text transform="translate(68.80 2270.50) scale(1.0079 1)" font-size="37.2">drenergic signaling in cardiomyocytes</text>
<text transform="translate(717.71 2323.90) scale(1.0108 1)" font-size="36.8">0.02</text>
<text transform="translate(822.12 2323.90) scale(1.0054 1)" font-size="36.8">0.03</text>
<text transform="translate(926.63 2323.20) scale(0.9986 1)" font-size="36.8">0.04</text>
<text transform="translate(1031.12 2322.90) scale(1.0083 1)" font-size="36.8">0.05</text>
<text transform="translate(1133.93 2322.90) scale(0.9966 1)" font-size="36.8">0.06</text>
<text transform="translate(852.20 2378.40) scale(1.0321 1)" font-size="41.2">Rich factor</text>
<text transform="translate(1282.82 1639.60) scale(1.0006 1)" font-size="19.6" font-weight="bold">qvalue</text>
<defs><linearGradient id="qv" x1="0" y1="1" x2="0" y2="0"><stop offset="0" stop-color="#ff0000"/><stop offset="0.024" stop-color="#ff0000"/><stop offset="0.12" stop-color="#f27400"/><stop offset="0.22" stop-color="#d2b800"/><stop offset="0.30" stop-color="#a0f000"/><stop offset="0.35" stop-color="#80ff00"/><stop offset="0.50" stop-color="#72ff9c"/><stop offset="0.60" stop-color="#4affdc"/><stop offset="0.66" stop-color="#20f8ff"/><stop offset="0.75" stop-color="#62c0ff"/><stop offset="0.85" stop-color="#7a86ff"/><stop offset="0.976" stop-color="#8000ff"/><stop offset="1" stop-color="#8000ff"/></linearGradient></defs>
<rect x="1283.2" y="1648.7" width="35.0" height="175.5" fill="url(#qv)"/>
<path d="M1283.2 1652.7h7M1318.2 1652.7h-7M1283.2 1694.8h7M1318.2 1694.8h-7M1283.2 1736.6h7M1318.2 1736.6h-7M1283.2 1778.3h7M1318.2 1778.3h-7M1283.2 1819.8h7M1318.2 1819.8h-7" stroke="#fff" stroke-width="1.2" fill="none" opacity="0.8"/>
<text transform="translate(1327.89 1660.60) scale(1.0030 1)" font-size="18.8" fill="#111">1.00</text>
<text transform="translate(1326.92 1702.40) scale(1.0325 1)" font-size="18.8" fill="#111">0.75</text>
<text transform="translate(1326.93 1744.10) scale(1.0297 1)" font-size="18.8" fill="#111">0.50</text>
<text transform="translate(1326.92 1785.80) scale(1.0325 1)" font-size="18.8" fill="#111">0.25</text>
<text transform="translate(1326.93 1827.60) scale(1.0297 1)" font-size="18.8" fill="#111">0.00</text>
<text transform="translate(1283.42 1870.20) scale(0.9929 1)" font-size="19.6" font-weight="bold">Gene_number</text>
<g fill="#0a0a0a">
<circle cx="1300.7" cy="1897.0" r="2.4"/>
<circle cx="1300.7" cy="1932.0" r="5.0"/>
<circle cx="1300.7" cy="1966.9" r="7.5"/>
<circle cx="1300.7" cy="2002.1" r="10.1"/>
<circle cx="1300.7" cy="2037.2" r="12.9"/>
</g>
<g font-size="18.8" fill="#111">
<text x="1322.4" y="1904.2">1</text>
<text x="1322.4" y="1939.1">2</text>
<text x="1322.4" y="1974.3">3</text>
<text x="1322.4" y="2009.2">4</text>
<text x="1322.4" y="2044.4">5</text>
</g>
</g>
</svg></body></html>
